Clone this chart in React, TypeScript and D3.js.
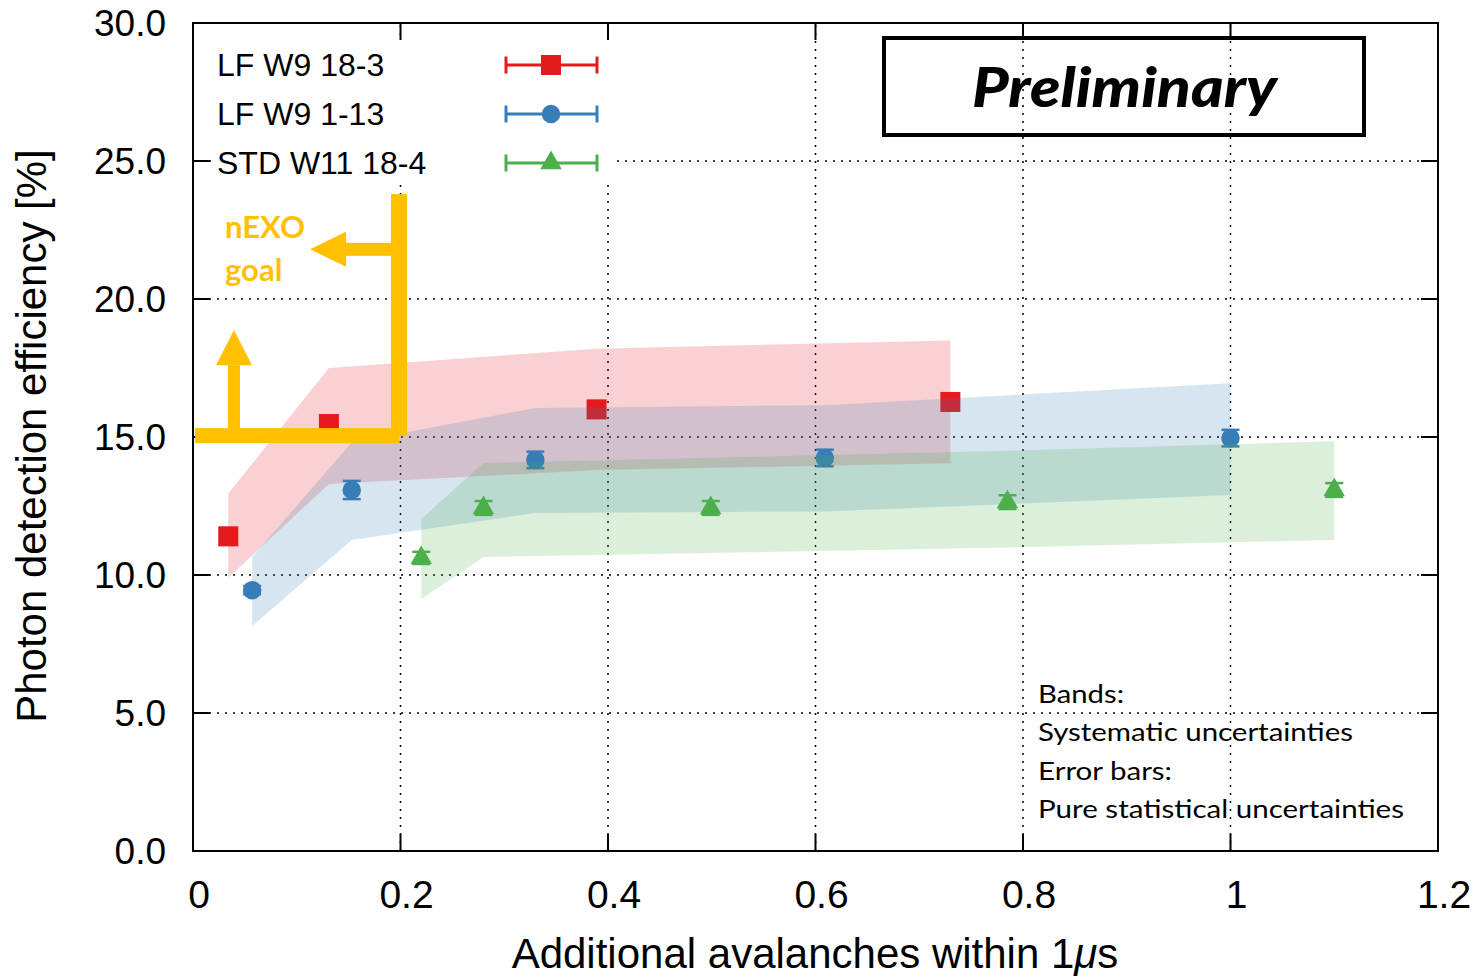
import React, { useRef, useEffect } from "react";
import * as d3 from "d3";

const width = 1482;
const height = 977;
const space = { left: 193, right: 44, top: 23, bottom: 126 };

const xTicks = [0, 0.2, 0.4, 0.6, 0.8, 1, 1.2];
const yTicks = [0, 5, 10, 15, 20, 25, 30];

const seriesNames = ["LF W9 18-3", "LF W9 1-13", "STD W11 18-4"];
const seriesColors = ["#e41a1c", "#377eb8", "#4daf4a"];
const seriesSymbols = [d3.symbolSquare, d3.symbolCircle, d3.symbolTriangle];
const symbolSizes = [400, 270, 200];

// LF W9 18-3
const redX = [0.034, 0.131, 0.389, 0.73];
const redY = [11.4, 15.47, 16.0, 16.27];
const redErr = [0.3, 0.3, 0.3, 0.3];
const redLo = [9.9, 13.3, 13.8, 14.05];
const redHi = [12.95, 17.5, 18.2, 18.5];

// LF W9 1-13
const blueX = [0.057, 0.153, 0.33, 0.609, 1.0];
const blueY = [9.45, 13.08, 14.17, 14.24, 14.96];
const blueErr = [0.15, 0.33, 0.3, 0.3, 0.3];
const blueLo = [8.15, 11.27, 12.25, 12.3, 12.9];
const blueHi = [10.65, 14.8, 16.05, 16.15, 16.95];

// STD W11 18-4
const greenX = [0.22, 0.28, 0.499, 0.785, 1.1];
const greenY = [10.62, 12.43, 12.43, 12.64, 13.08];
const greenErr = [0.22, 0.25, 0.25, 0.25, 0.25];
const greenLo = [9.13, 10.65, 10.8, 11.0, 11.27];
const greenHi = [12.03, 14.06, 14.25, 14.5, 14.85];

// nEXO goal marker
const goalLevel = 15.05;
const goalX = 0.1986;
const goalTop = 23.8;
const leftArrow = { y: 21.8, base: 0.1475, tip: 0.1128 };
const upArrow = { x: 0.0395, base: 17.6, tip: 18.88 };

const noteLines = [
  "Bands:",
  "Systematic uncertainties",
  "Error bars:",
  "Pure statistical uncertainties",
];

const series = [
  { x: redX, y: redY, err: redErr, lo: redLo, hi: redHi },
  { x: blueX, y: blueY, err: blueErr, lo: blueLo, hi: blueHi },
  { x: greenX, y: greenY, err: greenErr, lo: greenLo, hi: greenHi },
];

const axisFont = "'Liberation Sans', Arial, Helvetica, sans-serif";
const noteFont = "Lato, 'Open Sans', sans-serif";
const orange = "#ffc000";

const App = () => {
  const ref = useRef<SVGSVGElement>(null);

  useEffect(() => {
    const svg = d3.select(ref.current);
    svg.selectAll("*").remove();
    svg.attr("width", width).attr("height", height).attr("viewBox", [0, 0, width, height].join(" "));

    const x = d3.scaleLinear().domain([0, 1.2]).range([space.left, width - space.right]);
    const y = d3.scaleLinear().domain([0, 30]).range([height - space.bottom, space.top]);
    const x0 = space.left;
    const x1 = width - space.right;
    const y0 = height - space.bottom;
    const y1 = space.top;

    svg.append("rect").attr("width", width).attr("height", height).attr("fill", "#fff");

    // dotted grid
    const grid = svg.append("g").attr("stroke", "#000").attr("stroke-width", 1.5).attr("stroke-dasharray", "2,6");
    grid.selectAll("line.gx")
      .data(xTicks.slice(1, -1))
      .join("line")
      .attr("x1", d => x(d)).attr("x2", d => x(d))
      .attr("y1", y0).attr("y2", y1);
    grid.selectAll("line.gy")
      .data(yTicks.slice(1, -1))
      .join("line")
      .attr("x1", x0).attr("x2", x1)
      .attr("y1", d => y(d)).attr("y2", d => y(d));

    // legend background hides the grid
    svg.append("rect")
      .attr("x", 213).attr("y", 41).attr("width", 400).attr("height", 143)
      .attr("fill", "#fff");

    // bands, points and error bars, one series after the other
    series.forEach((s, i) => {
      const rows = s.x.map((v, j) => ({ x: v, y: s.y[j], err: s.err[j], lo: s.lo[j], hi: s.hi[j] }));
      const area = d3.area<any>().x(d => x(d.x)).y0(d => y(d.lo)).y1(d => y(d.hi));
      svg.append("path")
        .attr("d", area(rows))
        .attr("fill", seriesColors[i])
        .attr("fill-opacity", 0.2);

      const g = svg.append("g").attr("stroke", seriesColors[i]).attr("stroke-width", 2.5);
      rows.forEach(d => {
        g.append("line").attr("x1", x(d.x)).attr("x2", x(d.x)).attr("y1", y(d.y - d.err)).attr("y2", y(d.y + d.err));
        [d.y - d.err, d.y + d.err].forEach(e => {
          g.append("line").attr("x1", x(d.x) - 9).attr("x2", x(d.x) + 9).attr("y1", y(e)).attr("y2", y(e));
        });
      });
      svg.append("g")
        .selectAll("path")
        .data(rows)
        .join("path")
        .attr("transform", d => `translate(${x(d.x)},${y(d.y)})`)
        .attr("d", d3.symbol().type(seriesSymbols[i]).size(symbolSizes[i])())
        .attr("fill", seriesColors[i]);
    });

    // frame and inward ticks
    const axes = svg.append("g").attr("stroke", "#000").attr("stroke-width", 2);
    axes.append("rect")
      .attr("x", x0).attr("y", y1).attr("width", x1 - x0).attr("height", y0 - y1)
      .attr("fill", "none");
    const tl = 17;
    axes.selectAll("line.tx")
      .data(xTicks.slice(1, -1))
      .join("line")
      .attr("x1", d => x(d)).attr("x2", d => x(d))
      .attr("y1", y0).attr("y2", y0 - tl);
    axes.selectAll("line.tx2")
      .data(xTicks.slice(1, -1))
      .join("line")
      .attr("x1", d => x(d)).attr("x2", d => x(d))
      .attr("y1", y1).attr("y2", y1 + tl);
    axes.selectAll("line.ty")
      .data(yTicks.slice(1, -1))
      .join("line")
      .attr("x1", x0).attr("x2", x0 + tl)
      .attr("y1", d => y(d)).attr("y2", d => y(d));
    axes.selectAll("line.ty2")
      .data(yTicks.slice(1, -1))
      .join("line")
      .attr("x1", x1).attr("x2", x1 - tl)
      .attr("y1", d => y(d)).attr("y2", d => y(d));

    // tick labels
    svg.append("g")
      .selectAll("text")
      .data(yTicks)
      .join("text")
      .attr("x", 166)
      .attr("y", d => y(d) + 13)
      .attr("text-anchor", "end")
      .attr("font-family", axisFont)
      .attr("font-size", 37)
      .text(d => d3.format(".1f")(d));
    svg.append("g")
      .selectAll("text")
      .data(xTicks)
      .join("text")
      .attr("x", d => x(d) + 6)
      .attr("y", 908)
      .attr("text-anchor", "middle")
      .attr("font-family", axisFont)
      .attr("font-size", 39)
      .text(d => String(d));

    // axis titles
    const xTitle = svg.append("text")
      .attr("x", 815).attr("y", 968)
      .attr("text-anchor", "middle")
      .attr("font-family", axisFont)
      .attr("font-size", 42);
    xTitle.append("tspan").text("Additional avalanches within 1");
    xTitle.append("tspan").attr("font-style", "italic").text("\u03bc");
    xTitle.append("tspan").text("s");
    svg.append("text")
      .attr("transform", "translate(46,436) rotate(-90)")
      .attr("text-anchor", "middle")
      .attr("font-family", axisFont)
      .attr("font-size", 42)
      .text("Photon detection efficiency [%]");

    // legend
    const legend = svg.append("g");
    seriesNames.forEach((name, i) => {
      const cy = 65 + i * 49;
      legend.append("text")
        .attr("x", 217).attr("y", cy + 11)
        .attr("font-family", axisFont)
        .attr("font-size", 32)
        .text(name);
      const lg = legend.append("g").attr("stroke", seriesColors[i]).attr("stroke-width", 3);
      lg.append("line").attr("x1", 506).attr("x2", 597).attr("y1", cy).attr("y2", cy);
      lg.append("line").attr("x1", 506).attr("x2", 506).attr("y1", cy - 8.5).attr("y2", cy + 8.5);
      lg.append("line").attr("x1", 597).attr("x2", 597).attr("y1", cy - 8.5).attr("y2", cy + 8.5);
      legend.append("path")
        .attr("transform", `translate(551,${cy})`)
        .attr("d", d3.symbol().type(seriesSymbols[i]).size(symbolSizes[i])())
        .attr("fill", seriesColors[i]);
    });

    // Preliminary box
    svg.append("rect")
      .attr("x", 884).attr("y", 38).attr("width", 480).attr("height", 97)
      .attr("fill", "none").attr("stroke", "#000").attr("stroke-width", 4);
    svg.append("text")
      .attr("x", 972).attr("y", 107)
      .attr("font-family", noteFont)
      .attr("font-weight", 900)
      .attr("font-style", "italic")
      .attr("font-size", 56)
      .attr("textLength", 305)
      .attr("lengthAdjust", "spacingAndGlyphs")
      .text("Preliminary");

    // note on uncertainties
    const noteWidths = [86, 315, 134, 366];
    noteLines.forEach((line, i) => {
      svg.append("text")
        .attr("x", 1038).attr("y", 703 + i * 38.3)
        .attr("font-family", noteFont)
        .attr("font-size", 25)
        .attr("textLength", noteWidths[i])
        .attr("lengthAdjust", "spacingAndGlyphs")
        .text(line);
    });

    // nEXO goal
    const goal = svg.append("g").attr("fill", orange);
    goal.append("rect")
      .attr("x", x(0.002)).attr("y", y(goalLevel) - 7.5)
      .attr("width", x(goalX) - x(0.002)).attr("height", 15);
    goal.append("rect")
      .attr("x", x(goalX) - 8).attr("y", y(goalTop))
      .attr("width", 16).attr("height", y(goalLevel) - y(goalTop));
    goal.append("rect")
      .attr("x", x(leftArrow.base)).attr("y", y(leftArrow.y) - 6.5)
      .attr("width", x(goalX) - x(leftArrow.base)).attr("height", 13);
    goal.append("path")
      .attr("d", `M${x(leftArrow.tip)},${y(leftArrow.y)}L${x(leftArrow.base)},${y(leftArrow.y) - 17.5}L${x(leftArrow.base)},${y(leftArrow.y) + 17.5}Z`);
    goal.append("rect")
      .attr("x", x(upArrow.x) - 6).attr("y", y(upArrow.base))
      .attr("width", 12).attr("height", y(goalLevel) - y(upArrow.base));
    goal.append("path")
      .attr("d", `M${x(upArrow.x)},${y(upArrow.tip)}L${x(upArrow.x) - 18},${y(upArrow.base)}L${x(upArrow.x) + 18},${y(upArrow.base)}Z`);
    goal.append("text")
      .attr("x", 225).attr("y", 238)
      .attr("font-family", noteFont).attr("font-weight", 700).attr("font-size", 31)
      .text("nEXO");
    goal.append("text")
      .attr("x", 225).attr("y", 281)
      .attr("font-family", noteFont).attr("font-weight", 700).attr("font-size", 31)
      .text("goal");
  }, []);

  return (
    <div style={{ position: "absolute", left: 0, top: 0 }}>
      <svg ref={ref} style={{ display: "block" }} />
    </div>
  );
};

export default App;
